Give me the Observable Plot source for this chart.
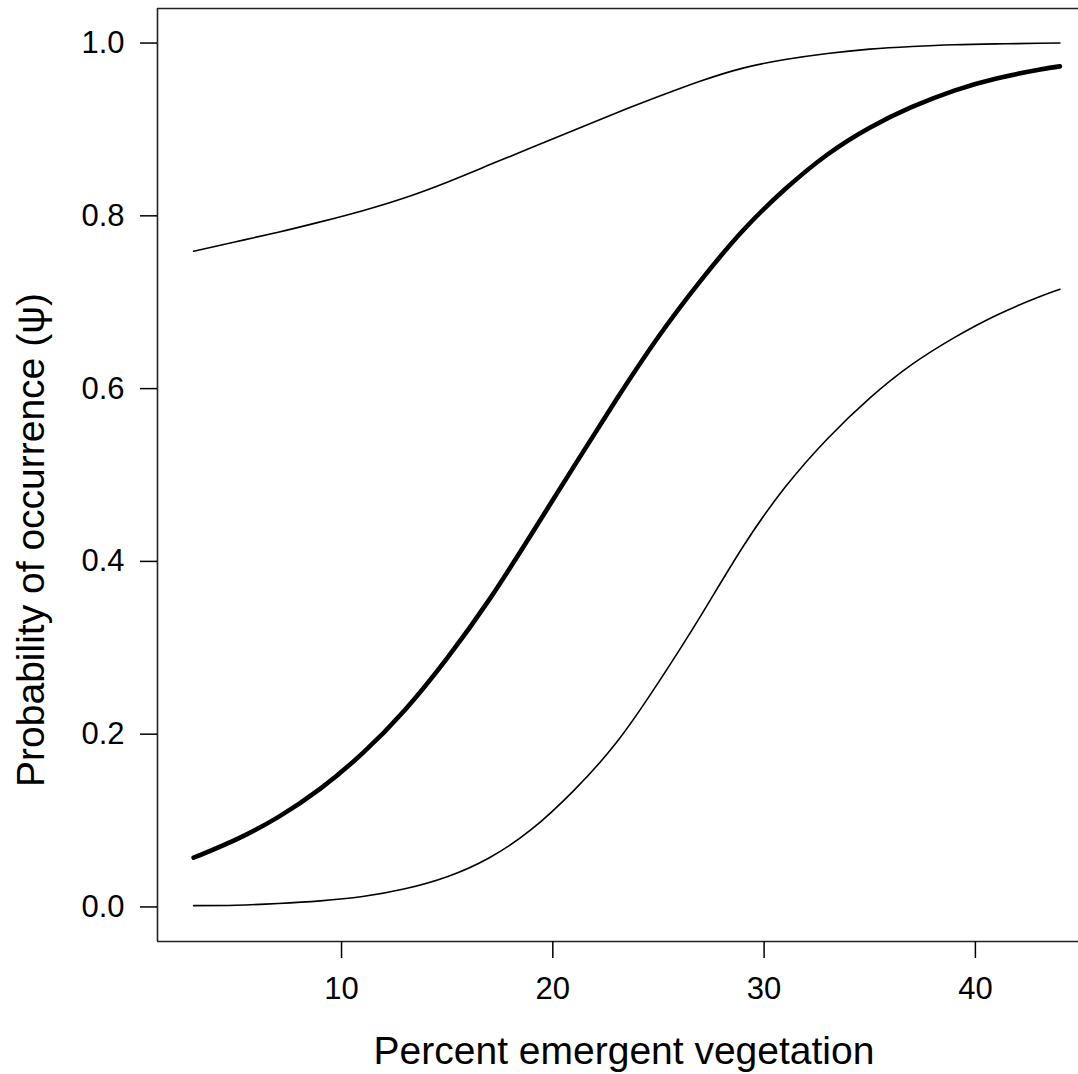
<!DOCTYPE html>
<html>
<head>
<meta charset="utf-8">
<script src="https://cdn.jsdelivr.net/npm/d3@7"></script>
<script src="https://cdn.jsdelivr.net/npm/@observablehq/plot@0.6"></script>
<style>
  html, body { margin: 0; padding: 0; background: #fff; }
  #chart svg { display: block; }
</style>
</head>
<body>
<div id="chart"></div>
<script>
// Percent emergent vegetation (x)
const veg = [3, 5, 7, 9, 11, 13, 15, 17, 19, 21, 23, 25, 27, 29, 31, 33, 35, 37, 39, 41, 43, 44];
// Mean probability of occurrence
const meanPsi = [0.057, 0.078, 0.104, 0.137, 0.178, 0.228, 0.288, 0.356, 0.432, 0.51, 0.587, 0.66, 0.725, 0.783, 0.831, 0.871, 0.902, 0.926, 0.945, 0.959, 0.969, 0.973];
// Upper credible bound
const upperPsi = [0.759, 0.770, 0.781, 0.793, 0.806, 0.821, 0.839, 0.859, 0.879, 0.899, 0.919, 0.938, 0.956, 0.971, 0.981, 0.988, 0.993, 0.996, 0.998, 0.999, 0.9997, 1.0];
// Lower credible bound
const lowerPsi = [0.0015, 0.002, 0.004, 0.007, 0.012, 0.021, 0.035, 0.057, 0.09, 0.135, 0.19, 0.26, 0.337, 0.417, 0.486, 0.542, 0.589, 0.628, 0.659, 0.685, 0.706, 0.715];
// Tick values
const xTicks = [10, 20, 30, 40];
const yTicks = [0, 0.2, 0.4, 0.6, 0.8, 1.0];
const xTitle = "Percent emergent vegetation";
const yTitle = "Probability of occurrence (\u03C8)";

const meanData = veg.map((v, i) => ({x: v, y: meanPsi[i]}));
const upperData = veg.map((v, i) => ({x: v, y: upperPsi[i]}));
const lowerData = veg.map((v, i) => ({x: v, y: lowerPsi[i]}));

const xDomain = [1.29, 44.88];
const yDomain = [-0.04, 1.04];

const chart = Plot.plot({
  width: 1078,
  height: 1074,
  marginLeft: 157,
  marginRight: 0,
  marginTop: 8,
  marginBottom: 133,
  style: {fontFamily: "'Liberation Sans', Arial, Helvetica, sans-serif", fontSize: "31px", color: "#000", background: "#fff"},
  x: {domain: xDomain},
  y: {domain: yDomain},
  marks: [
    Plot.ruleX([xDomain[0]], {stroke: "#222", strokeWidth: 1.6}),
    Plot.ruleY([yDomain[0]], {stroke: "#222", strokeWidth: 1.6}),
    Plot.ruleY([yDomain[1]], {stroke: "#222", strokeWidth: 1.6}),
    Plot.axisX({ticks: xTicks, tickSize: 17, tickPadding: 18, label: null, strokeWidth: 1.5, tickFormat: d3.format("d")}),
    Plot.axisY({ticks: yTicks, tickSize: 17, tickPadding: 16, label: null, strokeWidth: 1.5, tickFormat: d3.format(".1f")}),
    Plot.line(upperData, {x: "x", y: "y", curve: "natural", stroke: "#000", strokeWidth: 1.6}),
    Plot.line(lowerData, {x: "x", y: "y", curve: "natural", stroke: "#000", strokeWidth: 1.6}),
    Plot.line(meanData, {x: "x", y: "y", curve: "natural", stroke: "#000", strokeWidth: 4.6}),
    Plot.text([xTitle], {frameAnchor: "bottom", textAnchor: "middle", dx: 6, dy: 122, fontSize: 39, fill: "#000"}),
    Plot.text([yTitle], {frameAnchor: "left", textAnchor: "middle", lineAnchor: "middle", dx: -126, dy: 65, rotate: -90, fontSize: 39, fill: "#000"})
  ]
});
document.getElementById("chart").appendChild(chart);
</script>
</body>
</html>
